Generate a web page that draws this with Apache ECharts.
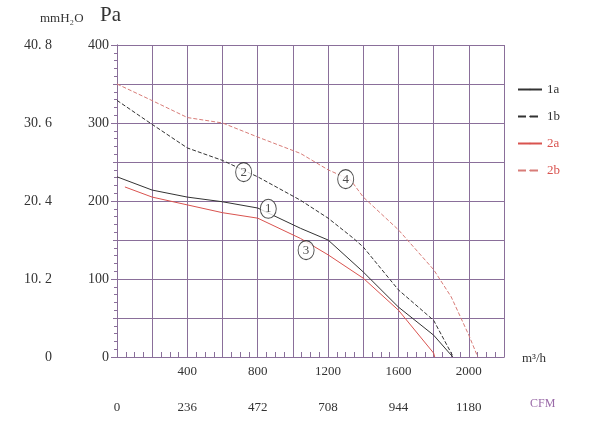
<!DOCTYPE html><html><head><meta charset="utf-8"><script src="https://cdn.jsdelivr.net/npm/echarts@6/dist/echarts.min.js"></script></head><body style="margin:0;background:#fff"><div id="c" style="width:600px;height:436px"></div><script>
const s1a=[[0,231],[200,214],[400,205],[600,199],[800,191],[1043,165],[1200,150],[1400,109],[1600,64],[1800,28],[1909,0]];
const s1b=[[0,329],[188,300],[400,268],[600,252],[800,231],[1043,201],[1200,178],[1345,152],[1400,141],[1600,86],[1800,47],[1900,5],[1912,0]];
const s2a=[[45,218],[200,205],[400,195],[600,185],[800,178],[1043,152],[1200,131],[1400,101],[1600,60],[1800,5],[1806,0]];
const s2b=[[0,350],[188,330],[400,307],[600,300],[800,282],[1043,261],[1200,240],[1328,227],[1400,205],[1600,163],[1800,112],[1900,77],[2000,28],[2051,0]];
const marks=[[860,190,'1'],[720,237,'2'],[1075,137,'3'],[1300,228,'4']];
const grey='#333',red='#d9534f',gridC='#8a6f9a';
const tf="Liberation Serif";
const ch=echarts.init(document.getElementById('c'));
const ln=(name,d,color,type)=>({name,type:'line',data:d,smooth:false,symbol:'none',lineStyle:{color,width:1,type},itemStyle:{color},xAxisIndex:0,yAxisIndex:0});
ch.setOption({animation:false,
grid:{left:117,right:96,top:45,bottom:79},
graphic:[
 {type:'text',left:40,top:12,style:{text:'mmH₂O',font:'13px "Liberation Serif"',fill:grey}},
 {type:'text',left:100,top:5,style:{text:'Pa',font:'21px "Liberation Serif"',fill:grey}},
 {type:'text',left:522,top:352,style:{text:'m³/h',font:'13px "Liberation Serif"',fill:grey}},
 {type:'text',left:530,top:398,style:{text:'CFM',font:'12px "Liberation Serif"',fill:'#9a6aa8'}}],
legend:{orient:'vertical',left:512,top:78,itemGap:14,itemWidth:24,itemHeight:2,textStyle:{fontFamily:tf,fontSize:13},
 data:[{name:'1a',textStyle:{color:grey}},{name:'1b',textStyle:{color:grey}},{name:'2a',textStyle:{color:red}},{name:'2b',textStyle:{color:red}}]},
xAxis:[{type:'value',min:0,max:2200,interval:200,position:'bottom',
  axisLine:{lineStyle:{color:gridC}},axisTick:{show:true,inside:true,length:6,lineStyle:{color:gridC}},minorTick:{show:true,splitNumber:4,length:5,lineStyle:{color:gridC}},
  splitLine:{lineStyle:{color:gridC,width:1}},
  axisLabel:{fontFamily:tf,fontSize:13,color:grey,formatter:v=>(v%400===0&&v>0&&v<2200)?v:''}},
 {type:'value',min:0,max:1298,interval:236,position:'bottom',offset:36,
  axisLine:{lineStyle:{color:gridC}},axisTick:{show:true,inside:true,length:6,lineStyle:{color:gridC}},minorTick:{show:true,splitNumber:4,length:4,lineStyle:{color:gridC}},splitLine:{show:false},
  axisLabel:{fontFamily:tf,fontSize:13,color:grey,formatter:v=>v>1290?'':v}}],
yAxis:[{type:'value',min:0,max:400,interval:50,
  axisLine:{show:true,lineStyle:{color:gridC}},axisTick:{show:true,length:4,lineStyle:{color:gridC}},minorTick:{show:true,splitNumber:5,length:3,lineStyle:{color:gridC}},
  splitLine:{lineStyle:{color:gridC}},
  axisLabel:{fontFamily:tf,fontSize:14,color:grey,margin:8,formatter:v=>v%100===0?v:''}},
 {type:'value',min:0,max:40.8,interval:10.2,position:'left',offset:55,
  axisLine:{show:true,lineStyle:{color:gridC}},axisTick:{show:true,length:6,lineStyle:{color:gridC}},minorTick:{show:true,splitNumber:5,length:3,lineStyle:{color:gridC}},splitLine:{show:false},
  axisLabel:{fontFamily:tf,fontSize:14,color:grey,margin:10,formatter:v=>v===0?'0':v.toFixed(1).replace('.','. ')}}],
series:[ln('1a',s1a,grey,'solid'),ln('1b',s1b,grey,'dashed'),ln('2a',s2a,red,'solid'),ln('2b',s2b,'#d87c78','dashed'),
 {type:'scatter',data:marks.map(m=>[m[0],m[1]]),symbol:'circle',symbolSize:[16,19],itemStyle:{color:'#fff',borderColor:'#222',borderWidth:1},
  label:{show:true,position:'inside',fontFamily:tf,fontSize:13,color:'#222',formatter:p=>marks[p.dataIndex][2]},z:5}]
});
</script></body></html>
